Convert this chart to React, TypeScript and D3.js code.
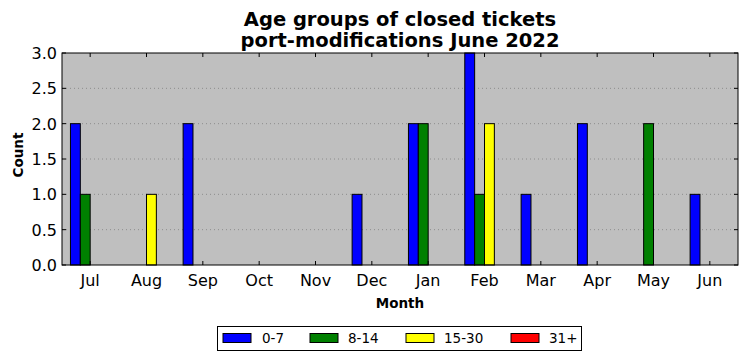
import React from "react";
import * as d3 from "d3";

const months = ["Jul", "Aug", "Sep", "Oct", "Nov", "Dec", "Jan", "Feb", "Mar", "Apr", "May", "Jun"];
const seriesNames = ["0-7", "8-14", "15-30", "31+"];
const seriesColors = ["#0000ff", "#008000", "#ffff00", "#ff0000"];
const age0to7 = [2, 0, 2, 0, 0, 1, 2, 3, 1, 2, 0, 1];
const age8to14 = [1, 0, 0, 0, 0, 0, 2, 1, 0, 0, 2, 0];
const age15to30 = [0, 1, 0, 0, 0, 0, 0, 2, 0, 0, 0, 0];
const age31plus = [0, 0, 0, 0, 0, 0, 0, 0, 0, 0, 0, 0];
const seriesValues = [age0to7, age8to14, age15to30, age31plus];
const yTicks = [0, 0.5, 1, 1.5, 2, 2.5, 3];
const yTickLabels = ["0.0", "0.5", "1.0", "1.5", "2.0", "2.5", "3.0"];

const W = 747, H = 361;
const L = 62, R = 738, T = 53, B = 265;
const font = "DejaVu Sans, sans-serif";

export default function App() {
  const x = d3.scaleLinear().domain([-0.5, 11.5]).range([L, R]);
  const y = d3.scaleLinear().domain([0, 3]).range([B, T]);
  const bw = 0.175;
  const legendItems = [
    { px: 223, tx: 262 },
    { px: 310, tx: 348 },
    { px: 406, tx: 444 },
    { px: 511, tx: 549 },
  ];
  return (
    <svg width={W} height={H} style={{ position: "absolute", left: 0, top: 0 }} fontFamily={font}>
      <rect x={0} y={0} width={W} height={H} fill="#ffffff" />
      <rect x={L} y={T} width={R - L} height={B - T} fill="#bfbfbf" />
      {yTicks.slice(1, -1).map((t) => (
        <line key={"g" + t} x1={L} x2={R} y1={y(t)} y2={y(t)} stroke="#808080" strokeWidth={0.8} strokeDasharray="1,3" />
      ))}
      {seriesValues.map((vals, s) =>
        vals.map((v, i) => {
          const x0 = x(i - 0.35 + s * bw);
          const x1 = x(i - 0.35 + (s + 1) * bw);
          return (
            <rect key={s + "-" + i} x={x0} y={y(v)} width={x1 - x0} height={y(0) - y(v)} fill={seriesColors[s]} stroke="#000" strokeWidth={1} />
          );
        })
      )}
      <rect x={L} y={T} width={R - L} height={B - T} fill="none" stroke="#000" strokeWidth={1} />
      {months.map((m, i) => (
        <g key={m}>
          <line x1={x(i)} x2={x(i)} y1={B} y2={B - 4} stroke="#000" />
          <line x1={x(i)} x2={x(i)} y1={T} y2={T + 4} stroke="#000" />
          <text x={x(i)} y={286} textAnchor="middle" fontSize={16}>{m}</text>
        </g>
      ))}
      {yTicks.map((t, i) => (
        <g key={"y" + t}>
          <line x1={L} x2={L + 4} y1={y(t)} y2={y(t)} stroke="#000" />
          <line x1={R} x2={R - 4} y1={y(t)} y2={y(t)} stroke="#000" />
          <text x={L - 5} y={y(t) + 6} textAnchor="end" fontSize={16}>{yTickLabels[i]}</text>
        </g>
      ))}
      <text x={400} y={26} textAnchor="middle" fontSize={19.5} fontWeight="bold">Age groups of closed tickets</text>
      <text x={400} y={47} textAnchor="middle" fontSize={19.5} fontWeight="bold">port-modifications June 2022</text>
      <text x={400} y={308} textAnchor="middle" fontSize={13.5} fontWeight="bold">Month</text>
      <text transform={`translate(22.5,155) rotate(-90)`} textAnchor="middle" fontSize={13.5} fontWeight="bold">Count</text>
      <rect x={217.5} y={326.5} width={364} height={24} fill="#fff" stroke="#000" strokeWidth={1} />
      {legendItems.map((it, s) => (
        <g key={"l" + s}>
          <rect x={it.px} y={333.5} width={28} height={9} fill={seriesColors[s]} stroke="#000" strokeWidth={1} />
          <text x={it.tx} y={343} fontSize={13.5}>{seriesNames[s]}</text>
        </g>
      ))}
    </svg>
  );
}
